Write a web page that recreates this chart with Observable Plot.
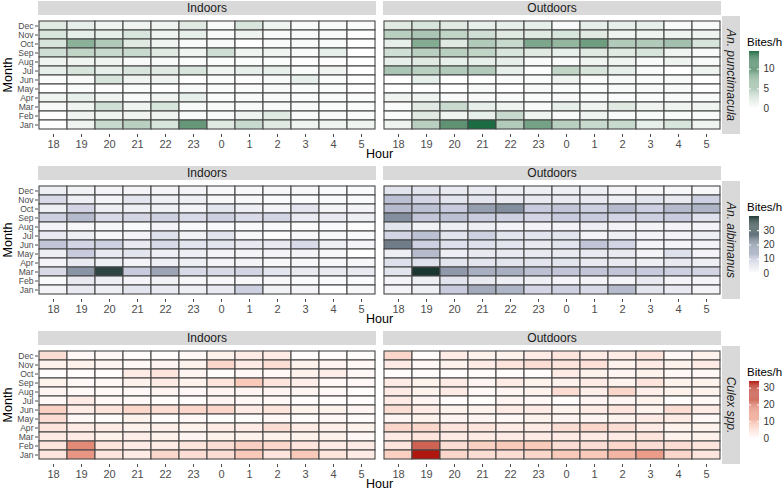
<!DOCTYPE html>
<html>
<head>
<meta charset="utf-8">
<script src="https://cdn.jsdelivr.net/npm/d3@7"></script>
<script src="https://cdn.jsdelivr.net/npm/@observablehq/plot@0.6"></script>
<style>
  body { margin: 0; background: #fff; }
  #chart { position: relative; width: 784px; height: 490px; font-family: "Liberation Sans", Arial, sans-serif; overflow: hidden; }
  .strip { position: absolute; background: #d9d9d9; color: #1a1a1a; font-size: 12px; display: flex; align-items: center; justify-content: center; }
  .vstrip span { display: inline-block; transform: rotate(90deg); white-space: nowrap; font-style: italic; }
  .lbl { position: absolute; font-size: 12.5px; color: #000; white-space: nowrap; }
  .mainplot g[aria-label="y-axis tick label"], .mainplot g[aria-label="y-axis"] { font-size: 8.6px; }
</style>
</head>
<body>
<div id="chart"></div>
<script>
// ---------------- data ----------------
const months = ["Dec","Nov","Oct","Sep","Aug","Jul","Jun","May","Apr","Mar","Feb","Jan"]; // top to bottom
const hours = ["18","19","20","21","22","23","0","1","2","3","4","5"];
const locations = ["Indoors","Outdoors"];
const species = ["An. punctimacula","An. albimanus","Culex spp."];

// rows follow `months` order (Dec ... Jan), columns follow `hours`
const punctIndoors = [
  [2,1.5,1,1,1,2,0.5,2.5,1,0.5,0.5,0.3],
  [2.5,1.5,1.5,2.5,1,1.5,0.5,1,0.5,0.5,0.5,0.2],
  [2.5,7.5,5,2,1,0.5,0.5,0,0.5,0.5,0.5,0],
  [3,4,3.5,3.5,2,1,3,1,1,0.5,1.5,0],
  [1,1,1,0.5,0.5,0.3,0.3,0.3,0.3,0.2,0.2,0],
  [1.5,2.5,1.5,2.5,2,2.5,1,1.5,1.5,0.5,1,0],
  [0.3,0.5,2.5,1,1,0,0.3,0.2,0.5,1.5,0.3,0],
  [0,0.3,0.2,0.3,0,0.5,0.3,0.3,0.5,0.3,0.3,0],
  [1,1.5,1,0.5,1,1.5,0.3,0.5,0.5,0.3,0.5,0.3],
  [0.5,1,3,1,2.5,0.5,0.5,0.5,0.5,0.5,0.3,0.3],
  [0,1,1,1,1,0.5,0.5,1,2,0.5,0.5,0.3],
  [0,1,3.5,4.5,2.5,10,2,3.5,2,1,1,1]
];
const punctOutdoors = [
  [2,2.5,2,1.5,1.5,1.5,0.5,1.5,1.5,1.5,0.5,0.5],
  [4.5,5.5,4,3,2,2,2.5,2,1,1,1,1],
  [1.5,8,2,5,3.5,8.5,7,9.5,5,5,6,2.5],
  [3,4.5,4.5,4,2.5,2,1.5,2,2,2.5,1,0.5],
  [1.5,2,1.5,1.5,1.5,0.5,0.5,1,1,0.5,1,0.5],
  [5.5,4.5,5,5,1.5,0.3,4,2.5,1.5,0.5,0,1],
  [0,1.5,0,0,0.3,0.3,1,0.3,0.5,0.3,0.5,0],
  [0,0,0,0.5,0,0.5,0.3,0.3,0.5,0.5,0.5,0],
  [1,1,0.5,0.5,0.5,0.3,0.5,0.5,0.3,0.3,0.5,0.5],
  [0.3,2,3.5,1.5,1,0.5,1.5,1,2,1,1,1],
  [0.3,2,1,1.5,3.5,1,0.5,1,0.5,0.5,0.5,0.5],
  [1,4.5,10.5,14.5,5,9,4.5,3.5,3.5,1.5,2.5,1]
];
const albiIndoors = [
  [3,2.5,2,2,2,2,1.5,1.5,1.5,1.5,1,1],
  [7,3,2,5,3,3,1.5,1.5,1,1,1,1],
  [3,8,3,3,3,2,5,3,2,5,2,2],
  [9,13,7,8,9,7,9,7,8,4,4,3],
  [2,1.5,1.5,1,2,1,1,1,1,0.5,1,0.5],
  [4,3,1.5,2,6,2.5,5,1.5,0.5,1.5,1.5,1],
  [11,8,9,4,7,5,5,4,4,7,3,2],
  [3,10,4,5,3,3,2,2,2,2,1.5,0],
  [2,4,3,2,3,3,2,2,1.5,1.5,1.5,1.5],
  [7,20,36,10,17,7,7,8,5,4,4,4],
  [1,4,3,2,2.5,1.5,1.5,1.5,1.5,1,1,1],
  [2,4,3,5,4,3,4,9,2.5,2,0,1.5]
];
const albiOutdoors = [
  [5,5,4,4,3,3,3,3,2,1.5,1.5,1.5],
  [12,8,5,5,4,4,4,4,3,5,4,9],
  [13,12,10,18,21,10,11,9,13,9,13,14],
  [21,11,12,10,9,8,10,10,8,9,10,6],
  [5,2.5,3,3,2,2,2,3,2,2,2,2],
  [8,12,5,9,5,5,5,2,3,2,2,3],
  [24,9,6,6,5,4,5,11,8,2,2,2],
  [3,13,3,4,4,4,4,4,4,2,6,2],
  [6,6,5,5,5,5,5,4,4,3,4,3],
  [5,40,19,15,15,12,11,11,11,10,9,8],
  [2,3,5,4,3,3,2,2,2,4,2,2],
  [2,3,10,16,14,8,9,7,13,5,4,2]
];
const culexIndoors = [
  [5,1,1,0.5,0.5,1,2,3,3,0.5,0.5,0.5],
  [2,2,1.5,1,1.5,2,6,3,5,2,1.5,1],
  [0.5,0.5,0.5,3,4,1.5,0.5,1,1,2,2.5,1],
  [2,1,1,2,3,2,4,8,4,2.5,1,1],
  [1.5,1,1,1,1.5,1,1.5,1.5,1.5,1.5,1,0.5],
  [1,3,1,1,0.5,0.5,1.5,1,1,0.5,0.5,0.5],
  [7,3,4,6,5,6,6,3,4,2,2,1.5],
  [5,1,0.5,2,0.5,1,0.3,0.3,1,0.5,1,0.5],
  [4,3,3,2,2.5,2,3,3,5,3,2.5,2],
  [3,3,2,2.5,2,1.5,2,2,2,2,2,1],
  [4,18,4,3,3,4,5,7,6,4,3,3],
  [4,16,4,3,6,5,5,8,4,8,4,3]
];
const culexOutdoors = [
  [6,0.5,3,2,2,3,4,3,3,4,1,2],
  [3,1,2,3,4,5,4,4.5,2,3,2,3],
  [0.5,0.5,0.5,0.5,0.5,0.5,3,2,1.5,2,1,1],
  [3,2,3,1.5,3,2,2,3,2,4,2,2],
  [3,2,3,1,1.5,2,5,2.5,6,2.5,2,2],
  [3,1.5,0.5,0.3,1.5,1,0.5,1.5,1.5,2,0.5,1],
  [5,3,2,2,3,3,2,3,4,2,5,3],
  [1.5,2,1.5,1.5,1,2,1.5,1.5,2,3,3,1],
  [6,6,4,4,3,3,5,6,5,3,2,2],
  [3,4,3,3,3,3,3,3,3,4,2,2],
  [4,24,5,7,8,8,5,5,6,5,5,4],
  [7,34,6,5,5,6,8,8,11,15,6,4]
];

const legendTicks = [[0,5,10],[0,10,20,30],[0,10,20,30]];
const colorDomains = [[0,14.5],[0,10,20,30,40],[0,8.5,17,25.5,34]];
const colorRanges = [
  ["#ffffff","#1b6b43"],
  ["#ffffff","#c8cbdd","#8994a5","#4b5d62","#1b3530"],
  ["#ffffff","#f8c6b6","#e6907c","#c8594a","#b0160e"]
];
const panelValues = [[punctIndoors, punctOutdoors],[albiIndoors, albiOutdoors],[culexIndoors, culexOutdoors]];

// ---------------- drawing ----------------
const chart = document.getElementById("chart");
const rowTops = [0, 165, 330];
const W = 784, H = 160, mL = 38, mR = 63, mT = 16, mB = 26;
const panelW = 338, gap = 7;
const font = "Liberation Sans, Arial, sans-serif";

function addDiv(cls, css, html) {
  const d = document.createElement("div");
  d.className = cls;
  Object.assign(d.style, css);
  d.innerHTML = html;
  chart.appendChild(d);
  return d;
}

species.forEach((sp, s) => {
  const o = rowTops[s];
  const rows = [];
  locations.forEach((loc, l) => {
    panelValues[s][l].forEach((r, i) => r.forEach((v, j) => {
      rows.push({species: sp, loc, month: months[i], hour: hours[j], value: v});
    }));
  });
  const colorOpts = {type: "linear", domain: colorDomains[s], range: colorRanges[s], interpolate: "lab"};
  const p = Plot.plot({
    className: "mainplot",
    width: W, height: H,
    marginLeft: mL, marginRight: mR, marginTop: mT, marginBottom: mB,
    style: {fontFamily: font, fontSize: "11px", color: "#4d4d4d", background: "transparent", overflow: "visible"},
    facet: {data: rows, x: "loc"},
    fx: {domain: locations, axis: null, paddingInner: gap / (panelW + gap), paddingOuter: 0, label: null},
    x: {domain: hours, padding: 0, tickSize: 3, tickPadding: 3, label: null},
    y: {domain: months, padding: 0, tickSize: 3, tickPadding: 2, label: null},
    color: colorOpts,
    marks: [
      Plot.cell(rows, {x: "hour", y: "month", fill: "value", stroke: "#474747", strokeWidth: 1.1, inset: 0})
    ]
  });
  p.classList.add("mainplot");
  p.style.position = "absolute";
  p.style.left = "0px";
  p.style.top = o + "px";
  chart.appendChild(p);

  // strips
  addDiv("strip", {left: mL + "px", top: (o + 1) + "px", width: panelW + "px", height: "14px"}, "Indoors");
  addDiv("strip", {left: (mL + panelW + gap) + "px", top: (o + 1) + "px", width: panelW + "px", height: "14px"}, "Outdoors");
  addDiv("strip vstrip", {left: (W - mR + 1) + "px", top: (o + mT) + "px", width: "18px", height: (H - mT - mB) + "px"}, "<span>" + sp + "</span>");

  // axis titles
  addDiv("lbl", {left: "0px", width: (2 * (mL + panelW + gap / 2)) + "px", textAlign: "center", top: (o + 147) + "px"}, "Hour");
  addDiv("lbl", {left: "-22px", top: (o + mT + 52) + "px", width: "60px", textAlign: "center", transform: "rotate(-90deg)"}, "Month");

  // legend
  const maxV = colorDomains[s][colorDomains[s].length - 1];
  addDiv("lbl", {left: "747px", top: (o + 36) + "px", fontSize: "11.5px"}, "Bites/h");
  const nStep = 60;
  const steps = d3.range(nStep).map(i => ({y1: i * maxV / nStep, y2: (i + 1) * maxV / nStep, v: (i + 0.5) * maxV / nStep}));
  const leg = Plot.plot({
    width: 33, height: 59,
    marginLeft: 0, marginRight: 23, marginTop: 1, marginBottom: 1,
    style: {fontFamily: font, fontSize: "10px", color: "#333", background: "transparent", overflow: "visible"},
    x: {domain: [0, 1], axis: null},
    y: {domain: [0, maxV], axis: "right", ticks: legendTicks[s], tickSize: 0, tickPadding: 4, label: null},
    color: colorOpts,
    marks: [
      Plot.rect(steps, {x1: 0, x2: 1, y1: "y1", y2: "y2", fill: "v"}),
      Plot.ruleY(legendTicks[s], {x1: 0, x2: 0.2, stroke: "white"}),
      Plot.ruleY(legendTicks[s], {x1: 0.8, x2: 1, stroke: "white"})
    ]
  });
  leg.style.position = "absolute";
  leg.style.left = "749px";
  leg.style.top = (o + 50) + "px";
  chart.appendChild(leg);
});
</script>
</body>
</html>
